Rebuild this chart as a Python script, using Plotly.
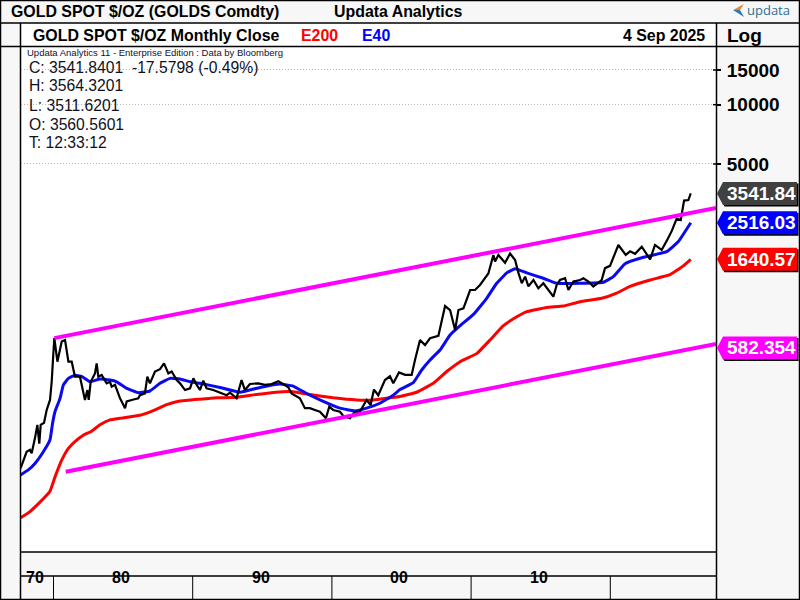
import math
import plotly.graph_objects as go

# decimal years / prices
close_x = [1977.64,1977.83,1978.07,1978.31,1978.43,1978.67,1978.84,1978.98,1979.08,1979.32,1979.51,1979.75,1979.87,1979.99,1980.06,
    1980.28,1980.47,1980.59,1980.83,1981.07,1981.31,1981.54,1981.9,1982.14,1982.26,1982.43,1982.53,1982.67,1982.98,1983.1,1983.22,
    1983.46,1983.82,1984.06,1984.18,1984.42,1984.78,1985.14,1985.26,1985.62,1986.09,1986.21,1986.57,1986.74,1986.93,1987.29,1987.65,
    1987.94,1988.25,1988.49,1988.85,1989.09,1989.45,1989.81,1990.05,1990.29,1990.52,1990.76,1991.0,1991.48,1991.96,1992.44,1992.68,
    1993.15,1993.51,1993.75,1994.11,1994.71,1995.19,1995.67,1996.15,1996.51,1996.87,1997.1,1997.7,1998.06,1998.42,1998.78,1999.14,
    1999.57,1999.81,2000.1,2000.58,2000.82,2001.3,2001.65,2002.01,2002.49,2002.78,2003.02,2003.33,2003.81,2004.17,2004.41,2004.82,
    2005.26,2005.73,2005.97,2006.33,2006.69,2007.05,2007.65,2007.89,2008.13,2008.49,2008.85,2009.09,2009.45,2009.93,2010.28,2010.64,
    2011.24,2011.6,2011.72,2011.96,2012.44,2012.8,2013.16,2013.4,2013.64,2013.88,2014.12,2014.48,2014.83,2015.19,2015.55,2015.91,
    2016.15,2016.39,2016.75,2016.99,2017.35,2017.83,2018.07,2018.43,2018.78,2019.38,2019.62,2019.98,2020.58,2020.94,2021.11,2021.42,
    2021.78,2022.26,2022.86,2023.21,2023.69,2024.05,2024.41,2024.77,2025.06,2025.3,2025.61,2025.78]
close_y = [143,157,173,177,170,203,237,190,237,243,282,317,392,547,653,
    496,580,628,639,496,496,416,416,349,317,356,317,392,432,486,416,
    425,385,392,370,378,323,288,312,317,323,335,342,416,385,442,454,
    486,432,442,400,385,356,363,408,378,356,397,363,356,345,335,345,
    323,400,356,382,385,378,382,395,382,368,342,323,288,288,282,276,
    256,293,282,276,263,256,276,276,317,299,358,335,400,418,385,437,
    425,425,506,639,602,652,671,807,950,907,718,907,925,1146,1146,1215,
    1390,1726,1600,1726,1575,1755,1628,1400,1240,1340,1195,1288,1170,1240,1146,1060,
    1215,1288,1315,1146,1265,1288,1315,1265,1195,1288,1480,1520,1940,1800,1726,1800,
    1750,1900,1640,1940,1830,2035,2280,2640,2598,3260,3281,3541.84]

e40_x = [1977.64,1978.19,1978.67,1979.27,1979.75,1979.94,1980.11,1980.47,1980.71,1981.07,1981.54,1982.02,1982.62,1983.34,1984.06,
    1984.54,1985.26,1986.09,1986.93,1987.65,1988.37,1989.09,1989.81,1990.53,1991.96,1993.39,1994.83,1996.27,1997.22,1998.18,1999.38,
    2000.58,2001.65,2002.49,2003.45,2004.41,2004.89,2005.85,2006.45,2007.05,2007.77,2008.49,2009.21,2010.17,2011.12,2011.84,2012.56,
    2013.16,2014.0,2015.19,2016.15,2017.83,2019.5,2020.22,2021.06,2022.38,2024.05,2024.89,2025.78]
e40_y = [132,140,151,173,199,243,277,323,378,408,423,418,392,405,400,
    392,363,345,352,385,408,405,392,385,367,347,367,382,373,342,312,
    288,279,288,305,335,358,388,450,506,568,677,755,862,1040,1240,1400,
    1470,1400,1315,1240,1240,1255,1340,1560,1680,1795,2020,2516.03]

e200_x = [1977.64,1978.31,1979.03,1979.75,1980.11,1980.59,1981.07,1981.54,1982.14,1982.74,1983.34,1984.06,1984.78,1986.21,1987.17,
    1988.13,1989.09,1990.53,1991.72,1993.15,1994.59,1996.51,1997.22,1998.42,2000.1,2001.77,2002.97,2004.17,2004.89,2006.09,2007.29,
    2008.25,2009.21,2010.4,2011.36,2012.32,2013.28,2014.0,2015.43,2016.63,2017.83,2019.38,2020.46,2021.42,2022.86,2024.29,2025.25,2025.78]
e200_y = [80,86,96,109,129,157,180,195,210,220,237,251,256,265,280,
    300,313,320,325,327,338,349,349,338,325,317,317,325,330,347,385,
    442,496,545,639,755,838,890,935,950,1000,1040,1105,1195,1288,1370,1520,1640.57]

upper_x = [1980.06, 2027.59]
upper_y = [653, 2988]
lower_x = [1980.88, 2027.59]
lower_y = [137, 610]

ytick_vals = [5000, 10000, 15000]
decade_x = [1980, 1990, 2000, 2010, 2020]
decade_labels = [(1978.65, '70'), (1984.85, '80'), (1994.9, '90'), (2004.85, '00'), (2014.85, '10')]

quote_lines = ['C: 3541.8401  -17.5798 (-0.49%)', 'H: 3564.3201', 'L: 3511.6201', 'O: 3560.5601', 'T: 12:33:12']
tags = [(3541.84, '3541.84', '#404040'), (2516.03, '2516.03', '#0000ff'),
        (1640.57, '1640.57', '#ff0000'), (582.354, '582.354', '#ff00ff')]

W, H = 800, 600
L, R, T, B = 21, 716, 47, 552
LOG_HI = 4.176 + 23 / 197.0
LOG_LO = 4.176 - 482 / 197.0
X_LO = 1980 + (L - 53.5) / 13.92
X_HI = 1980 + (R - 53.5) / 13.92
FONT = 'Liberation Sans'
GREY = '#f7f7f7'

def px(x):
    return (x - L) / float(R - L)

def py(y):
    return (B - y) / float(B - T)

def rect(x0, y0, x1, y1, fill):
    return dict(type='rect', xref='paper', yref='paper', x0=px(x0), x1=px(x1), y0=py(y0), y1=py(y1),
                fillcolor=fill, line_width=0, layer='below')

def hline(y, x0=0, x1=W, width=1.5):
    return dict(type='line', xref='paper', yref='paper', x0=px(x0), x1=px(x1), y0=py(y), y1=py(y),
                line=dict(color='black', width=width), layer='above')

def vline(x, y0=T, y1=H, width=1.5):
    return dict(type='line', xref='paper', yref='paper', x0=px(x), x1=px(x), y0=py(y0), y1=py(y1),
                line=dict(color='black', width=width), layer='above')

def poly(points, fill):
    d = 'M ' + ' L '.join('%.5f,%.5f' % (px(a), py(b)) for a, b in points) + ' Z'
    return dict(type='path', xref='paper', yref='paper', path=d, fillcolor=fill, line_width=0, layer='above')

def label(x, y, text, size=15.9, color='black', bold=True, anchor='left', font=FONT):
    if bold:
        text = '<b>%s</b>' % text
    return dict(xref='paper', yref='paper', x=px(x), y=py(y), text=text, showarrow=False, xanchor=anchor,
                yanchor='middle', font=dict(family=font, size=size, color=color), xshift=0, yshift=0,
                borderpad=0, borderwidth=0)

fig = go.Figure()
fig.add_trace(go.Scatter(x=e200_x, y=e200_y, mode='lines', line=dict(color='#ff0000', width=3, shape='spline', smoothing=0.3), name='E200'))
fig.add_trace(go.Scatter(x=e40_x, y=e40_y, mode='lines', line=dict(color='#0a0aee', width=3, shape='spline', smoothing=0.3), name='E40'))
fig.add_trace(go.Scatter(x=close_x, y=close_y, mode='lines', line=dict(color='black', width=2.2), name='Close'))
fig.add_trace(go.Scatter(x=upper_x, y=upper_y, mode='lines', line=dict(color='#ff00ff', width=4), name='upper'))
fig.add_trace(go.Scatter(x=lower_x, y=lower_y, mode='lines', line=dict(color='#ff00ff', width=4), name='lower'))

shapes = [
    rect(L, 23, R, T, 'white'),
    rect(L, B, R, 576, GREY),
    rect(L, 576, R, H, GREY),
    hline(0.5), hline(23), hline(46.5), hline(B, L, R), hline(576, L, R), hline(599.5),
    vline(0.5, 0, H), vline(20.5, 23, H), vline(716.5, 23, H), vline(799.5, 0, H),
]
for v in ytick_vals:
    yy = py(T + (LOG_HI - math.log10(v)) * 197)
    shapes.append(dict(type='line', xref='paper', yref='paper', x0=px(713), x1=px(716), y0=yy, y1=yy, line=dict(color='black', width=1.5)))
for d in decade_x:
    xx = px(53.5 + (d - 1980) * 13.92)
    shapes.append(dict(type='line', xref='paper', yref='paper', x0=xx, x1=xx, y0=py(576), y1=py(H), line=dict(color='black', width=1)))

annotations = [
    label(11, 12, 'GOLD SPOT $/OZ (GOLDS Comdty)'),
    label(334, 12, 'Updata Analytics'),
    label(33, 35.5, 'GOLD SPOT $/OZ Monthly Close'),
    label(301, 35.5, 'E200', color='#ff0000'),
    label(362, 35.5, 'E40', color='#0000ff'),
    label(705, 35.5, '4 Sep 2025', anchor='right'),
    label(727, 35.5, 'Log', size=19),
    label(27, 52, 'Updata Analytics 11 - Enterprise Edition : Data by Bloomberg', size=9.5, color='#101030', bold=False),
    label(747, 10, 'updata', size=13, color='#2a6f97', bold=False, font='Open Sans'),
]
for i, line in enumerate(quote_lines):
    annotations.append(label(29, 67 + i * 19, line, size=15.7, color='#101020', bold=False))
for x, text in decade_labels:
    annotations.append(dict(x=x, xref='x', y=py(588), yref='paper', text='<b>%s</b>' % text, showarrow=False,
                            font=dict(family=FONT, size=16, color='black')))

# price tags on the right hand scale
for value, text, colour in tags:
    yc = T + (LOG_HI - math.log10(value)) * 197
    shape_pts = [(717, yc), (723, yc - 11.5), (797, yc - 11.5), (797, yc + 11.5), (723, yc + 11.5)]
    shadow = [(a + 1.5, b + 1.5) for a, b in shape_pts]
    shapes.append(poly(shadow, 'black'))
    shapes.append(poly(shape_pts, colour))
    annotations.append(dict(xref='paper', x=px(725), xanchor='left', yref='y', y=math.log10(value), yanchor='middle',
                            text='<b>%s</b>' % text, showarrow=False, font=dict(family=FONT, size=19, color='white')))

# logo arrow
shapes.append(poly([(733, 10), (744, 4), (740, 10)], '#e8862e'))
shapes.append(poly([(733, 10), (740, 10), (744, 17)], '#2a7ab8'))

fig.update_layout(
    width=W, height=H, autosize=False, showlegend=False,
    margin=dict(l=L, r=W - R, t=T, b=H - B, pad=0),
    paper_bgcolor=GREY, plot_bgcolor='white',
    shapes=shapes, annotations=annotations,
    xaxis=dict(range=[X_LO, X_HI], showgrid=False, showticklabels=False, ticks='', zeroline=False, showline=False),
    yaxis=dict(type='log', range=[LOG_LO, LOG_HI], side='right', tickmode='array', tickvals=ytick_vals,
               ticktext=[str(v) for v in ytick_vals], showgrid=True, gridcolor='#b8b8b8', griddash='1px,2px', gridwidth=1,
               ticks='outside', ticklen=4, tickcolor='black', tickwidth=1.5, ticklabelstandoff=2,
               tickfont=dict(family=FONT, size=19, color='black', weight='bold'), zeroline=False, showline=False),
)

fig.write_html("out.html", post_script="document.body.style.margin='0';", config=dict(displayModeBar=False))
